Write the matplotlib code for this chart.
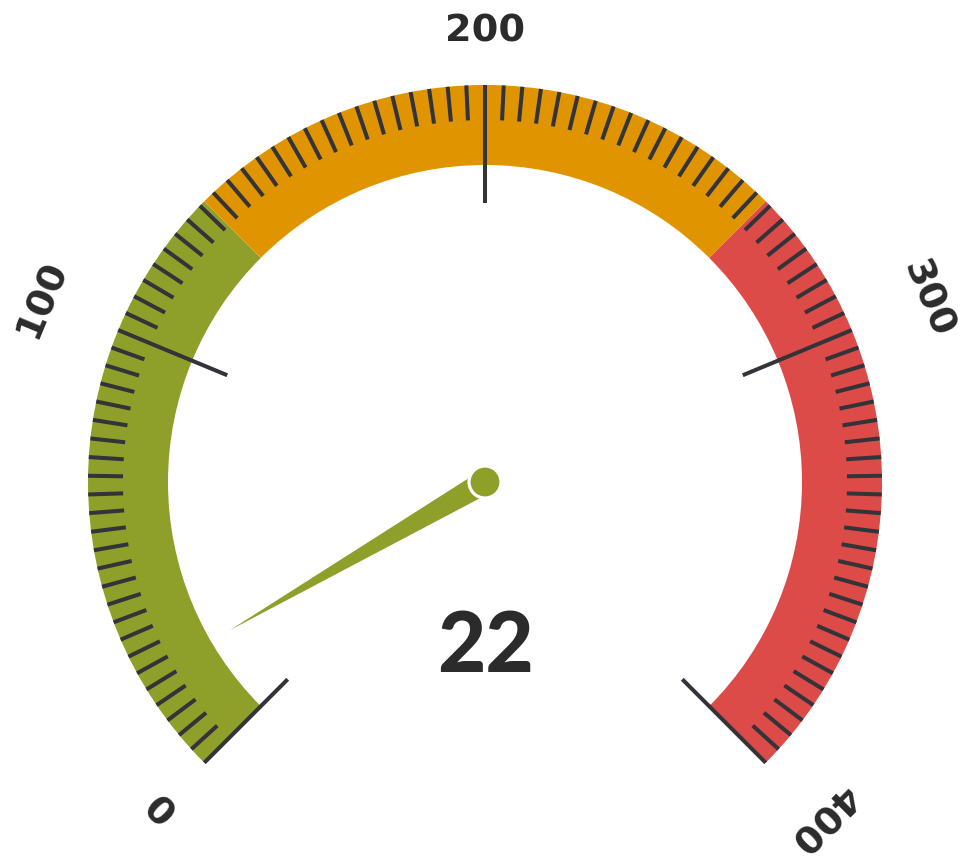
import numpy as np
import matplotlib.pyplot as plt
from matplotlib.patches import Wedge, Circle, Polygon

# gauge data
value = 22
v_min, v_max = 0, 400
band_edges = [0, 133.3, 266.7, 400]
band_colors = ['#8FA02A', '#E09400', '#DC4B47']
major_ticks = [0, 100, 200, 300, 400]
major_labels = ['0', '100', '200', '300', '400']
minor_step = 4

# geometry (pixels, gauge centre at origin)
R_OUT, R_IN = 397, 317
R_MAJOR_IN = 279
R_MINOR_IN = 362
R_LABEL = 441
START, SWEEP = 225.0, 270.0
TICK_COLOR = '#33333a'
TEXT_COLOR = '#2b2b2b'


def angle(v):
    """value -> angle in degrees (maths convention, counter-clockwise)"""
    return START - SWEEP * (v - v_min) / (v_max - v_min)


def polar(r, deg):
    a = np.radians(deg)
    return r * np.cos(a), r * np.sin(a)


fig = plt.figure(figsize=(9.63, 8.6), dpi=100)
ax = fig.add_axes([0, 0, 1, 1])
ax.set_xlim(-485, 478)
ax.set_ylim(-378, 482)
ax.axis('off')

# coloured bands
for lo, hi, col in zip(band_edges[:-1], band_edges[1:], band_colors):
    ax.add_patch(Wedge((0, 0), R_OUT, angle(hi), angle(lo),
                       width=R_OUT - R_IN, facecolor=col, edgecolor='none'))

# minor ticks
for v in np.arange(v_min + minor_step, v_max, minor_step):
    if v in major_ticks:
        continue
    a = angle(v)
    x0, y0 = polar(R_MINOR_IN, a)
    x1, y1 = polar(R_OUT, a)
    ax.plot([x0, x1], [y0, y1], color=TICK_COLOR, lw=2.9, solid_capstyle='butt')

# major ticks
for v in major_ticks:
    a = angle(v)
    x0, y0 = polar(R_MAJOR_IN, a)
    x1, y1 = polar(R_OUT, a)
    ax.plot([x0, x1], [y0, y1], color=TICK_COLOR, lw=2.9, solid_capstyle='butt')

# labels, pushed out by their own size like the original
renderer = fig.canvas.get_renderer()
cap_h = 28
for v, lab in zip(major_ticks, major_labels):
    a = angle(v)
    t = ax.text(0, 0, lab, fontsize=27.5, fontweight='bold', color=TEXT_COLOR,
                family='DejaVu Sans', ha='center', va='baseline',
                rotation=0, rotation_mode='anchor')
    w = t.get_window_extent(renderer).width  # unrotated width
    t.set_rotation(a - 90)
    rad = np.radians(a)
    r_c = R_LABEL + abs(np.cos(rad)) * w / 2 + abs(np.sin(rad)) * cap_h / 2
    t.set_position(polar(r_c - cap_h / 2, a))

# needle
a = angle(value)
tip = polar(295, a)
b1 = polar(12, a + 90)
b2 = polar(12, a - 90)
ax.add_patch(Polygon([tip, b1, b2], closed=True, facecolor=band_colors[0],
                     edgecolor='none', zorder=5))
ax.add_patch(Circle((0, 0), 16, facecolor=band_colors[0], edgecolor='white',
                    lw=2.3, zorder=6))

# value readout
ax.text(0, -166, str(value), fontsize=60, fontweight='black', family='Lato',
        color=TEXT_COLOR, ha='center', va='center')

fig.savefig('out.png', dpi=100)
